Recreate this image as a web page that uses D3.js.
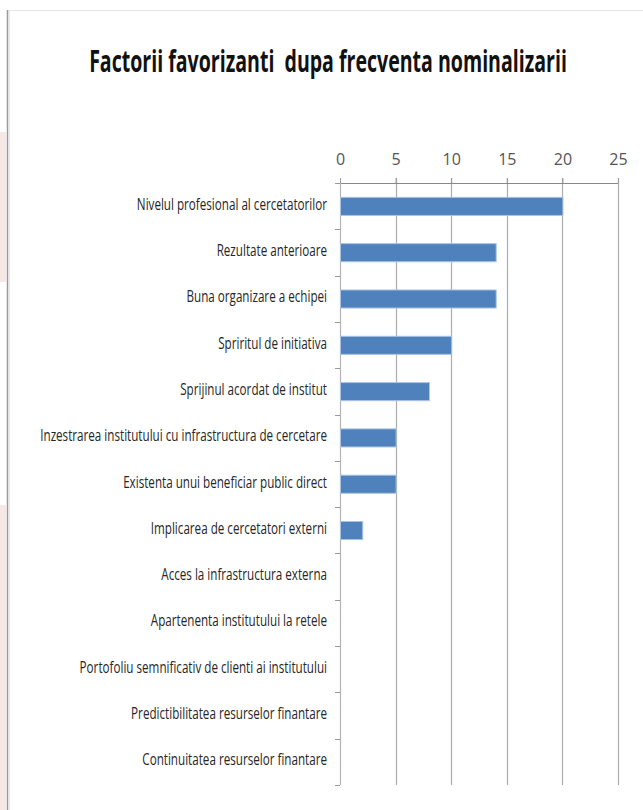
<!DOCTYPE html>
<html>
<head>
<meta charset="utf-8">
<script src="https://cdn.jsdelivr.net/npm/d3@7"></script>
<style>
  html, body { margin: 0; padding: 0; background: #fff; }
  svg { display: block; }
  text { font-family: "Liberation Sans Narrow", "Open Sans", "DejaVu Sans Condensed", sans-serif; }
</style>
</head>
<body>
<script>
const title = "Factorii favorizanti\u00a0 dupa frecventa nominalizarii";
const categories = [
  "Nivelul profesional al cercetatorilor",
  "Rezultate anterioare",
  "Buna organizare a echipei",
  "Spriritul de initiativa",
  "Sprijinul acordat de institut",
  "Inzestrarea institutului cu infrastructura de cercetare",
  "Existenta unui beneficiar public direct",
  "Implicarea de cercetatori externi",
  "Acces la infrastructura externa",
  "Apartenenta institutului la retele",
  "Portofoliu semnificativ de clienti ai institutului",
  "Predictibilitatea resurselor finantare",
  "Continuitatea resurselor finantare"
];
const values = [20, 14, 14, 10, 8, 5, 5, 2, 0, 0, 0, 0, 0];
const xTicks = [0, 5, 10, 15, 20, 25];

(function () {
const W = 643, H = 810;
const svg = d3.select("body").append("svg").attr("width", W).attr("height", H);

// page frame / background decoration
svg.append("rect").attr("x", 0).attr("y", 132).attr("width", 6).attr("height", 150).attr("fill", "#f8e7e7");
svg.append("rect").attr("x", 0).attr("y", 505).attr("width", 6).attr("height", 305).attr("fill", "#f8e7e7");
svg.append("line").attr("x1", 7).attr("x2", W).attr("y1", 10.5).attr("y2", 10.5).attr("stroke", "#e6e6e6");
svg.append("line").attr("x1", 7.5).attr("x2", 7.5).attr("y1", 10).attr("y2", H).attr("stroke", "#9a9a9a").attr("stroke-width", 1.5);
svg.append("line").attr("x1", 9).attr("x2", 9).attr("y1", 10).attr("y2", H).attr("stroke", "#e2e2e2").attr("stroke-width", 1.5);

// Title
const t = svg.append("text")
  .attr("x", 0).attr("y", 0)
  .attr("font-size", 30).attr("font-weight", "bold").attr("fill", "#111")
  .attr("text-anchor", "middle")
  .text(title);
{
  const w = t.node().getComputedTextLength();
  const sx = 478 / w;
  t.attr("transform", `translate(328,72) scale(${sx},1)`);
}

const pLeft = 340, pRight = 618, pTop = 183, pBottom = 785;
const x = d3.scaleLinear().domain([0, 25]).range([pLeft, pRight]);
const y = d3.scaleBand().domain(categories).range([pTop, pBottom]).padding(0);

// gridlines
svg.append("g").selectAll("line").data(xTicks.slice(1)).join("line")
  .attr("x1", d => Math.round(x(d)) + 0.5).attr("x2", d => Math.round(x(d)) + 0.5)
  .attr("y1", pTop - 5).attr("y2", pBottom)
  .attr("stroke", "#acacac").attr("stroke-width", 1.2);

// top axis
const xAxis = svg.append("g").attr("transform", `translate(0,${pTop})`)
  .call(d3.axisTop(x).tickValues(xTicks).tickSize(5).tickSizeOuter(0).tickPadding(13));
xAxis.select(".domain").attr("stroke", "#888").attr("d", `M${pLeft - 5},0.5H${pRight}`);
xAxis.selectAll(".tick line").attr("stroke", "#999");
xAxis.selectAll(".tick text").attr("font-size", 16).attr("fill", "#555")
  .attr("font-family", "\"Liberation Sans Narrow\", \"Open Sans\", sans-serif");

// left axis line and ticks at band boundaries
const bounds = categories.map(c => y(c)).concat([pBottom]);
svg.append("line").attr("x1", pLeft + 0.5).attr("x2", pLeft + 0.5).attr("y1", pTop).attr("y2", pBottom)
  .attr("stroke", "#b4b4b4").attr("stroke-width", 1.2);
svg.append("g").selectAll("line").data(bounds).join("line")
  .attr("x1", pLeft - 5).attr("x2", pLeft).attr("y1", d => Math.round(d) + 0.5).attr("y2", d => Math.round(d) + 0.5)
  .attr("stroke", "#999");

// bars
svg.append("g").selectAll("rect").data(categories.map((c, i) => ({ c, v: values[i] })).filter(d => d.v > 0)).join("rect")
  .attr("x", x(0) + 0.5)
  .attr("y", d => y(d.c) + y.bandwidth() * 0.31)
  .attr("width", d => x(d.v) - x(0))
  .attr("height", y.bandwidth() * 0.39)
  .attr("fill", "#4f81bd").attr("stroke", "#a9c3e3").attr("stroke-width", 1);

// category labels
const labels = svg.append("g").selectAll("text").data(categories).join("text")
  .attr("x", 0).attr("y", 0)
  .attr("text-anchor", "end").attr("dominant-baseline", "middle")
  .attr("font-size", 17).attr("fill", "#262626")
  .text(d => d);
{
  let maxW = 0;
  labels.each(function () { maxW = Math.max(maxW, this.getComputedTextLength()); });
  const sx = 287 / maxW;
  labels.attr("transform", d => `translate(327,${y(d) + y.bandwidth() / 2 - 1}) scale(${sx},1)`);
}
})();
</script>
</body>
</html>
